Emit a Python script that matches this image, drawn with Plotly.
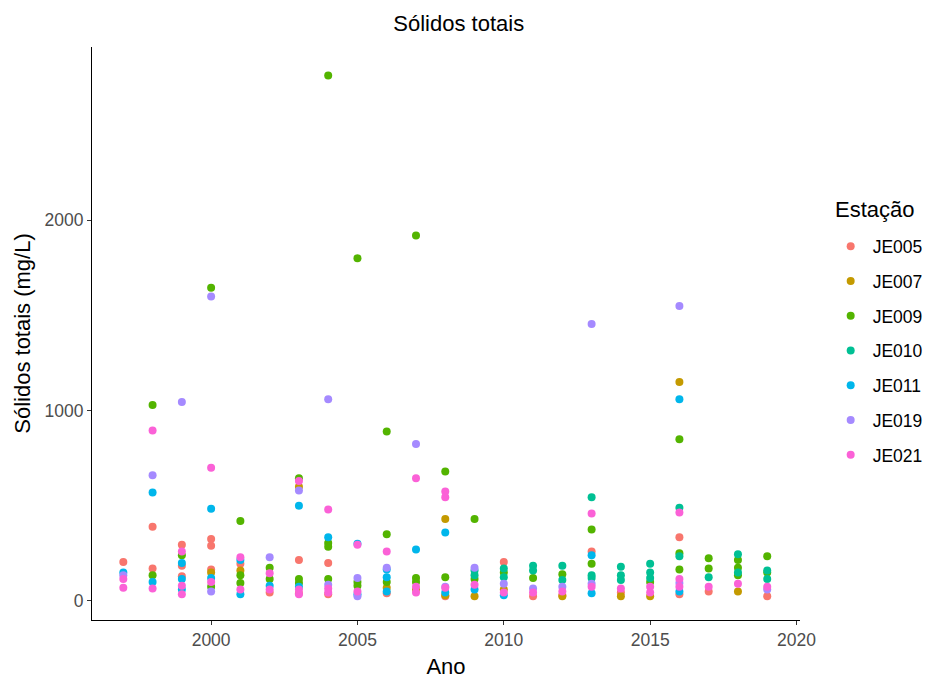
import plotly.graph_objects as go

# Station names and ggplot-style hue colours
stations = ["JE005", "JE007", "JE009", "JE010", "JE011", "JE019", "JE021"]
colors = ["#F8766D", "#C49A00", "#53B400", "#00C094", "#00B6EB", "#A58AFF", "#FB61D7"]

# Total solids (mg/L) by sampling year for each station
je005_year = [1997, 1998, 1998, 1999, 1999, 1999, 2000, 2000, 2000, 2001, 2002, 2003, 2003,
              2004, 2004, 2006, 2008, 2010, 2011, 2012, 2013, 2014, 2016, 2016, 2017, 2019]
je005_val = [205, 390, 170, 295, 185, 130, 325, 290, 165, 195, 45, 215, 40,
             200, 35, 40, 25, 205, 25, 30, 260, 45, 335, 35, 50, 25]

je007_year = [2000, 2001, 2003, 2006, 2007, 2008, 2008, 2009, 2010, 2012, 2014, 2015, 2016, 2018]
je007_val = [150, 160, 600, 70, 60, 430, 30, 25, 60, 25, 25, 25, 1150, 50]

je009_year = [1998, 1998, 1999, 2000, 2000, 2001, 2001, 2001, 2002, 2002, 2003, 2003, 2003,
              2004, 2004, 2004, 2004, 2005, 2005, 2005, 2006, 2006, 2006, 2007, 2007, 2007,
              2008, 2008, 2009, 2009, 2010, 2011, 2012, 2013, 2013, 2015, 2016, 2016, 2016,
              2017, 2017, 2018, 2018, 2018, 2019, 2019]
je009_val = [1030, 135, 240, 1645, 75, 420, 135, 95, 175, 115, 645, 115, 95,
             2760, 305, 285, 115, 1800, 100, 80, 890, 350, 100, 1920, 120, 100,
             680, 125, 430, 115, 150, 120, 140, 375, 195, 100, 850, 250, 165,
             225, 170, 215, 175, 135, 235, 150]

je010_year = [2009, 2009, 2010, 2010, 2011, 2011, 2012, 2012, 2013, 2013, 2013, 2014, 2014, 2014,
              2015, 2015, 2015, 2016, 2016, 2017, 2018, 2018, 2019, 2019]
je010_val = [160, 135, 170, 125, 185, 160, 185, 110, 545, 135, 120, 180, 135, 110,
             195, 150, 120, 490, 235, 125, 245, 150, 160, 115]

je011_year = [1997, 1998, 1998, 1999, 1999, 1999, 2000, 2000, 2001, 2001, 2002, 2003, 2003,
              2004, 2005, 2005, 2006, 2006, 2006, 2007, 2008, 2008, 2009, 2010, 2013, 2013,
              2016, 2016]
je011_val = [150, 570, 100, 200, 115, 60, 485, 120, 215, 35, 80, 500, 75,
             335, 300, 35, 165, 125, 50, 270, 360, 45, 60, 30, 240, 40,
             1060, 50]

je019_year = [1997, 1998, 1999, 2000, 2000, 2002, 2003, 2004, 2004, 2005, 2005, 2006, 2007,
              2008, 2009, 2010, 2011, 2012, 2013, 2013, 2016, 2016, 2019]
je019_val = [135, 660, 1045, 1600, 50, 230, 580, 1060, 85, 120, 25, 175, 825,
             75, 175, 90, 65, 75, 1455, 90, 1550, 95, 60]

je021_year = [1997, 1997, 1998, 1998, 1999, 1999, 1999, 2000, 2000, 2001, 2001, 2002, 2002,
              2003, 2003, 2003, 2004, 2004, 2004, 2005, 2005, 2006, 2007, 2007, 2007,
              2008, 2008, 2008, 2009, 2010, 2011, 2012, 2013, 2013, 2014, 2015, 2015,
              2016, 2016, 2016, 2017, 2018, 2019]
je021_val = [115, 70, 895, 65, 260, 80, 35, 700, 100, 230, 60, 145, 60,
             630, 60, 35, 480, 65, 45, 295, 50, 260, 645, 75, 45,
             575, 545, 70, 85, 45, 45, 50, 460, 75, 65, 75, 45,
             465, 115, 75, 75, 90, 75]

years = [je005_year, je007_year, je009_year, je010_year, je011_year, je019_year, je021_year]
values = [je005_val, je007_val, je009_val, je010_val, je011_val, je019_val, je021_val]

FONT = "Liberation Sans, Arial, sans-serif"
TITLE_SIZE = 22
TICK_SIZE = 17.5

fig = go.Figure()
for name, col, xs, ys in zip(stations, colors, years, values):
    fig.add_trace(go.Scatter(
        x=xs, y=ys, mode="markers", name=name, legendgroup=name,
        marker=dict(color=col, size=8, line=dict(width=0)),
    ))

axis_common = dict(
    showgrid=False, zeroline=False, showline=True, linecolor="#000000", linewidth=1,
    ticks="outside", ticklen=4, tickcolor="#333333", tickwidth=1,
    tickfont=dict(family=FONT, size=TICK_SIZE, color="#4D4D4D"),
    automargin=False,
)

fig.update_layout(
    width=932, height=680,
    margin=dict(l=92, r=132, t=47, b=60, autoexpand=False),
    paper_bgcolor="white", plot_bgcolor="white",
    font=dict(family=FONT, color="#000000"),
    title=dict(text="Sólidos totais", x=0.518, xref="paper", xanchor="center",
               y=1 - 23 / 680, yref="container", yanchor="middle",
               font=dict(family=FONT, size=TITLE_SIZE, color="#000000")),
    xaxis=dict(range=[1995.93, 2020.12], tickvals=[2000, 2005, 2010, 2015, 2020],
               title=dict(text="Ano", font=dict(family=FONT, size=TITLE_SIZE), standoff=9),
               **axis_common),
    yaxis=dict(range=[-100, 2910], tickvals=[0, 1000, 2000],
               title=dict(text="Sólidos totais (mg/L)", font=dict(family=FONT, size=TITLE_SIZE),
                          standoff=7),
               **axis_common),
    legend=dict(
        font=dict(family=FONT, size=TICK_SIZE),
        x=1.0405, xanchor="left", y=0.4695, yanchor="middle",
        tracegroupgap=9, itemwidth=34,
    ),
    annotations=[dict(
        text="Estação", xref="paper", yref="paper",
        x=(833 - 92) / 708, y=1 - (210 - 47) / 573, xanchor="left", yanchor="middle",
        showarrow=False, font=dict(family=FONT, size=TITLE_SIZE, color="#000000"),
    )],
)

fig.write_html("out.html")
